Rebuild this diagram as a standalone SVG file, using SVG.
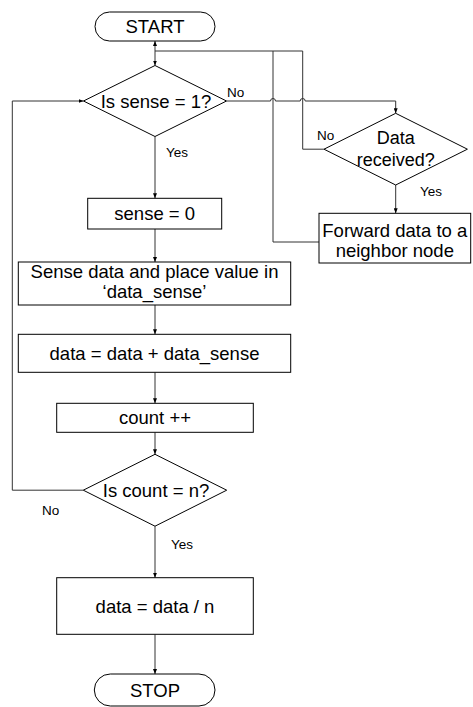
<svg xmlns="http://www.w3.org/2000/svg" width="473" height="707" viewBox="0 0 473 707">
<defs>
<marker id="ah" markerWidth="5" markerHeight="4" refX="5" refY="2" orient="auto" markerUnits="userSpaceOnUse">
<path d="M0,0 L5,2 L0,4 z" fill="#000"/>
</marker>
<style>
.shape{fill:#fff;stroke:#000;stroke-width:1}
.conn{fill:none;stroke:#333;stroke-width:1}
.t{font-family:"Liberation Sans",Arial,sans-serif;font-size:18.5px;fill:#000;text-anchor:middle}
.l{font-family:"Liberation Sans",Arial,sans-serif;font-size:13.5px;fill:#000}
</style>
</defs>
<rect width="473" height="707" fill="#fff"/>
<g id="connectors">
<path class="conn" d="M155,51 V41" marker-end="url(#ah)"/>
<path class="conn" d="M155,51 V65.5" marker-end="url(#ah)"/>
<path class="conn" d="M155,51 H302.7 V149.2 H324"/>
<path class="conn" d="M319,242 H273 V51"/>
<path class="conn" d="M226.5,101 H270.5 A2.5,2.5 0 0 1 275.5,101 H300.2 A2.5,2.5 0 0 1 305.2,101 H395.7 V113.3" marker-end="url(#ah)"/>
<path class="conn" d="M395.7,185 V213.3" marker-end="url(#ah)"/>
<path class="conn" d="M155,136.5 V198.3" marker-end="url(#ah)"/>
<path class="conn" d="M155,229 V262" marker-end="url(#ah)"/>
<path class="conn" d="M155,305 V334.3" marker-end="url(#ah)"/>
<path class="conn" d="M155,372.3 V403.3" marker-end="url(#ah)"/>
<path class="conn" d="M155,432.3 V454.3" marker-end="url(#ah)"/>
<path class="conn" d="M83.3,490.2 H12.3 V101 H83.5" marker-end="url(#ah)"/>
<path class="conn" d="M155,526.2 V577.7" marker-end="url(#ah)"/>
<path class="conn" d="M155,634.3 V674" marker-end="url(#ah)"/>
</g>
<g id="start">
<rect class="shape" x="95" y="12" width="120" height="29" rx="14.5"/>
<text class="t" x="155" y="32.5">START</text>
</g>
<g id="dec-sense">
<polygon class="shape" points="155,65.5 226.5,101 155,136.5 83.5,101"/>
<text class="t" x="156" y="107.5">Is sense = 1?</text>
<text class="l" x="227" y="97">No</text>
<text class="l" x="166" y="157">Yes</text>
</g>
<g id="dec-data">
<polygon class="shape" points="395.7,113.3 467.4,149.2 395.7,185 324,149.2"/>
<text class="t" x="395.7" y="143.5" style="font-size:18px">Data</text>
<text class="t" x="395.7" y="165.7" style="font-size:18px">received?</text>
<text class="l" x="317" y="140">No</text>
<text class="l" x="420" y="196">Yes</text>
</g>
<g id="forward">
<rect class="shape" x="319" y="213.3" width="151.7" height="49.7"/>
<text class="t" x="394.8" y="237">Forward data to a</text>
<text class="t" x="394.8" y="257">neighbor node</text>
</g>
<g id="sense0">
<rect class="shape" x="87.7" y="198.3" width="134" height="30.7"/>
<text class="t" x="154.7" y="220">sense = 0</text>
</g>
<g id="sensedata">
<rect class="shape" x="18.3" y="262" width="272.4" height="43"/>
<text class="t" x="154.5" y="278">Sense data and place value in</text>
<text class="t" x="154.5" y="298">‘data_sense’</text>
</g>
<g id="sum">
<rect class="shape" x="18.3" y="334.3" width="272.4" height="38"/>
<text class="t" x="154.5" y="359.5">data = data + data_sense</text>
</g>
<g id="count">
<rect class="shape" x="56.7" y="403.3" width="196.6" height="29"/>
<text class="t" x="155" y="424">count ++</text>
</g>
<g id="dec-count">
<polygon class="shape" points="155,454.3 226.7,490.2 155,526.2 83.3,490.2"/>
<text class="t" x="156" y="496.5">Is count = n?</text>
<text class="l" x="42" y="515">No</text>
<text class="l" x="171" y="549">Yes</text>
</g>
<g id="avg">
<rect class="shape" x="56.7" y="577.7" width="196.6" height="56.6"/>
<text class="t" x="155" y="612.5">data = data / n</text>
</g>
<g id="stop">
<rect class="shape" x="94.3" y="674" width="120.7" height="32" rx="16"/>
<text class="t" x="155" y="697">STOP</text>
</g>
</svg>
